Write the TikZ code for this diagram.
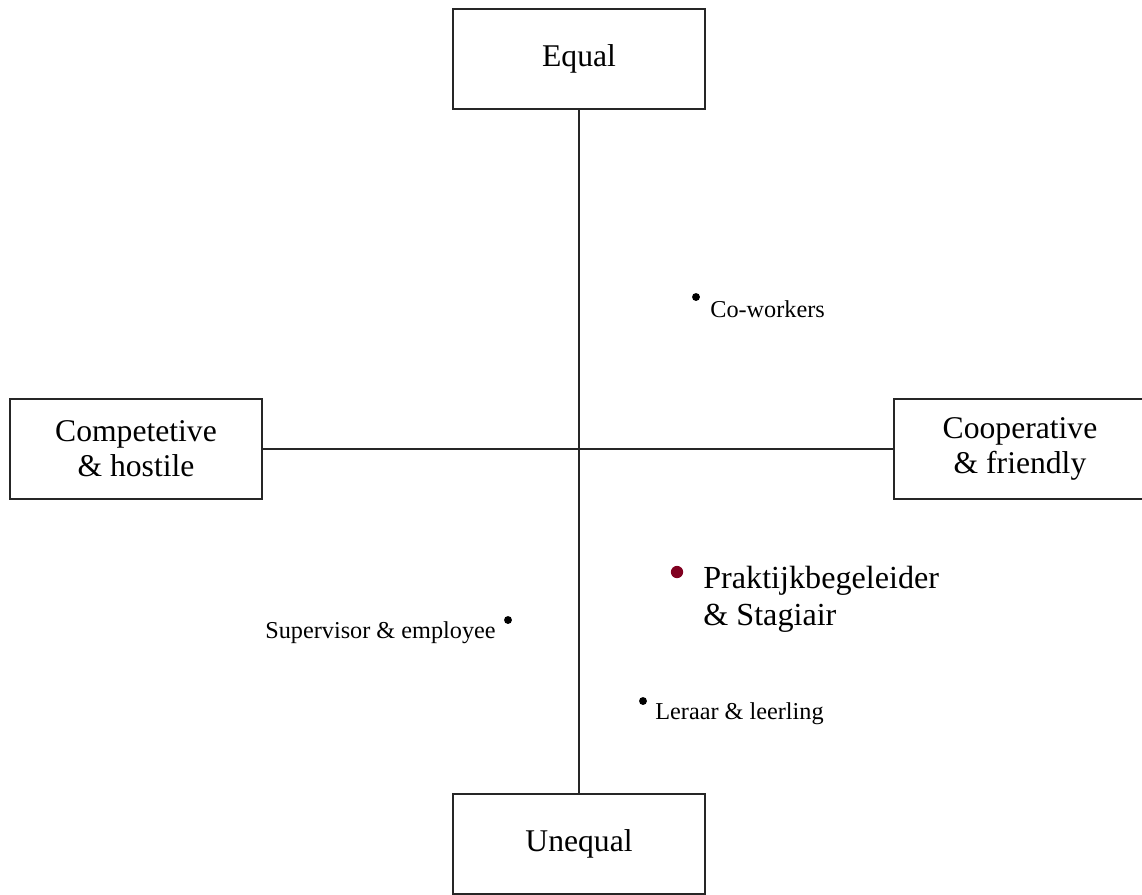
\documentclass[tikz,border=0pt]{standalone}
\usepackage{fontspec}
\setmainfont{Liberation Serif}
\usepackage{tikz}
\usetikzlibrary{positioning}
\definecolor{darkred}{RGB}{128,0,32}
\tikzset{
  axisbox/.style={
      draw=black!85,
      fill=white,
      rectangle,
      line width=1.1pt,
      minimum width=5.04cm,
      minimum height=2cm,
      align=center,
      font=\fontsize{18}{20}\selectfont
  },
  dot/.style={
      circle,
      fill=black,
      inner sep=0pt,
      minimum size=4.5pt
  },
  reddot/.style={
      circle,
      fill=darkred,
      inner sep=0pt,
      minimum size=7pt
  },
  small/.style={
      inner sep=0pt,
      align=left,
      font=\fontsize{13.8}{15}\selectfont
  },
  big/.style={
      inner sep=0pt,
      align=left,
      font=\fontsize{18.3}{21}\selectfont
  },
  axis/.style={line width=1.1pt, draw=black!85}
}
\begin{document}
\begin{tikzpicture}[x=0.02cm, y=-0.02cm]
      \useasboundingbox (0,0) rectangle (1142,894);
      % Basic boxes
      \node (equal) [axisbox] at (579,59) {Equal};
      \node (unequal) [axisbox] at (579,844) {Unequal};
      \node (hostile) [axisbox] at (136,449) {Competetive\\ \& hostile};
      \node (friendly) [axisbox] at (1020,449) {Cooperative\\ \& friendly};

      % Connections
      \draw[axis] (equal) -- (unequal);
      \draw[axis] (hostile) -- (friendly);

      % Relations
      \node (cowork) [dot] at (696,297) {};
      \node (coworktext) [small, anchor=west] at (710,309) {Co-workers};
      \node (praktijk) [reddot] at (677,572) {};
      \node (praktijktext) [big, anchor=north west] at (703,566) {Praktijkbegeleider\\ \& Stagiair};
      \node (super) [dot] at (508,620) {};
      \node (supertext) [small, anchor=east] at (496,633) {Supervisor \& employee};
      \node (leraar) [dot] at (643,701) {};
      \node (leraartext) [small, anchor=west] at (655,714) {Leraar \& leerling};
\end{tikzpicture}
\end{document}
